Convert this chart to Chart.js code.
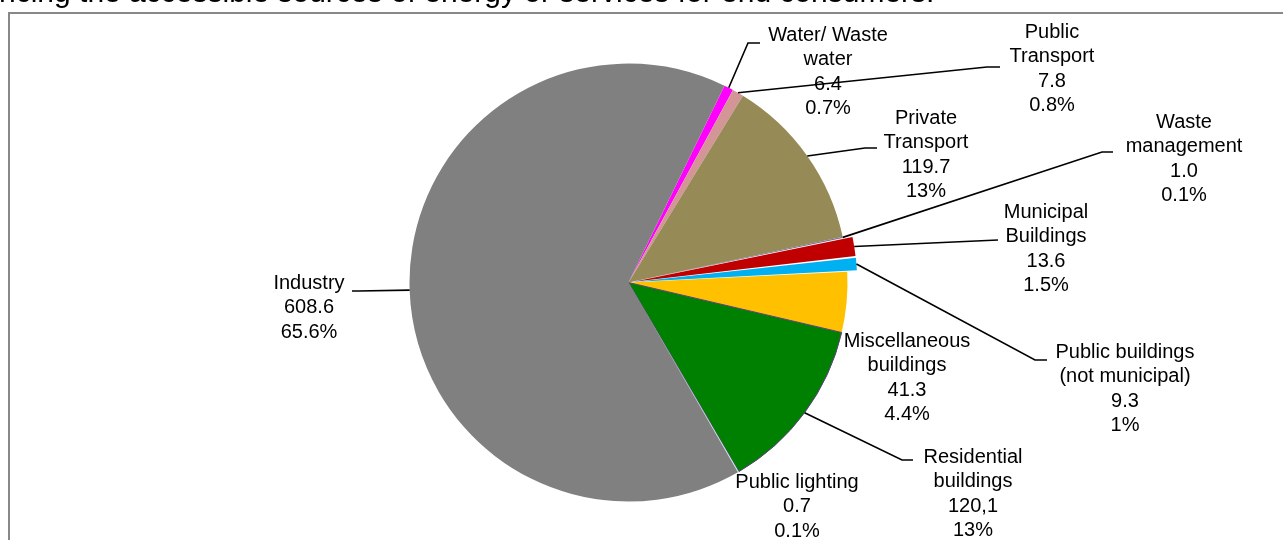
<!DOCTYPE html>
<html>
<head>
<meta charset="utf-8">
<script src="https://cdn.jsdelivr.net/npm/chart.js@4"></script>
<style>
    html, body { margin: 0; padding: 0; background: #fff; }
    #wrap { position: relative; width: 1283px; height: 540px; overflow: hidden; }
</style>
</head>
<body>
<div id="wrap"><canvas id="chartEnergi" width="1283" height="540"></canvas></div>
<script>
// ---- data: final energy consumption per sector (GWh) ----
const sectorNames = [
    'Water/ Waste water', 'Public Transport', 'Private Transport', 'Waste management',
    'Municipal Buildings', 'Public buildings (not municipal)', 'Miscellaneous buildings',
    'Residential buildings', 'Public lighting', 'Industry'
];
const sectorLines = [
    ['Water/ Waste', 'water'], ['Public', 'Transport'], ['Private', 'Transport'], ['Waste', 'management'],
    ['Municipal', 'Buildings'], ['Public buildings', '(not municipal)'], ['Miscellaneous', 'buildings'],
    ['Residential', 'buildings'], ['Public lighting'], ['Industry']
];
const consumption = [6.4, 7.8, 119.7, 1.0, 13.6, 9.3, 41.3, 120.1, 0.7, 608.6];
const valueLabels = ['6.4', '7.8', '119.7', '1.0', '13.6', '9.3', '41.3', '120,1', '0.7', '608.6'];
const percentLabels = ['0.7%', '0.8%', '13%', '0.1%', '1.5%', '1%', '4.4%', '13%', '0.1%', '65.6%'];

// ---- styling ----
const sliceColors = ['#FF00FF', '#D39595', '#968B56', '#7C7296', '#C00000', '#00B0F0', '#FFC000', '#008000', '#CFE6F2', '#808080'];
const sliceBorders = ['#FF00FF', '#D39595', '#968B56', '#7C7296', '#FF1010', '#00B0F0', '#FFC000', '#5E3F80', '#CFE6F2', '#808080'];
const sliceBorderWidths = [0, 0, 0, 0, 0, 0, 0, 1, 0, 0];
const explode = [0, 0, 0, 0, 20, 20, 0, 0, 0, 0];

// label boxes: centre x, y of first line, leader line points after the slice edge
const labelSpots = [
    { x: 828, y: 35, leader: [[748, 43], [760, 43]] },
    { x: 1052, y: 32, leader: [[987, 67], [1000, 67]] },
    { x: 926, y: 118, leader: [[865, 148], [877, 148]] },
    { x: 1184, y: 122, leader: [[1102, 152], [1113, 152]] },
    { x: 1046, y: 212, leader: [[998, 240]] },
    { x: 1125, y: 352, leader: [[1035, 360], [1047, 360]] },
    { x: 907, y: 341, leader: null },
    { x: 973, y: 457, leader: [[902, 460], [913, 460]] },
    { x: 797, y: 482, leader: null },
    { x: 309, y: 283, leader: [[358, 291], [352, 291]] }
];
const LINE_GAP = 24.5;

const sliceLabels = {
    id: 'sliceLabels',
    beforeDraw(chart) {
        const ctx = chart.ctx;
        ctx.save();
        // frame of the figure
        ctx.strokeStyle = '#888888';
        ctx.lineWidth = 2;
        ctx.strokeRect(9, 13, 1400, 700);
        // tail of the caption line above the figure
        ctx.fillStyle = '#000';
        ctx.font = '30px "Liberation Sans", Arial, sans-serif';
        ctx.textBaseline = 'alphabetic';
        ctx.fillText('ncing the accessible sources of energy or services for end consumers.', -1, 2);
        ctx.restore();
    },
    afterDatasetsDraw(chart) {
        const ctx = chart.ctx;
        const arcs = chart.getDatasetMeta(0).data;
        ctx.save();
        ctx.strokeStyle = '#000';
        ctx.lineWidth = 1.6;
        arcs.forEach((arc, i) => {
            const spot = labelSpots[i];
            if (!spot.leader) return;
            const p = arc.getProps(['x', 'y', 'startAngle', 'endAngle', 'outerRadius', 'circumference'], true);
            const mid = (p.startAngle + p.endAngle) / 2;
            const shift = (arc.options.offset || 0) / 4;
            const grow = shift * (1 - Math.sin(Math.min(Math.PI, p.circumference)));
            const r = p.outerRadius + shift + grow;
            ctx.beginPath();
            ctx.moveTo(p.x + Math.cos(mid) * r, p.y + Math.sin(mid) * r);
            spot.leader.forEach(pt => ctx.lineTo(pt[0], pt[1]));
            ctx.stroke();
        });
        ctx.fillStyle = '#000';
        ctx.font = '20px "Liberation Sans", Arial, sans-serif';
        ctx.textAlign = 'center';
        ctx.textBaseline = 'middle';
        arcs.forEach((arc, i) => {
            const spot = labelSpots[i];
            const lines = [...sectorLines[i], valueLabels[i], percentLabels[i]];
            lines.forEach((txt, k) => ctx.fillText(txt, spot.x, spot.y + k * LINE_GAP));
        });
        ctx.restore();
    }
};

new Chart(document.getElementById('chartEnergi'), {
    type: 'pie',
    data: {
        labels: sectorNames,
        datasets: [{
            data: consumption,
            backgroundColor: sliceColors,
            borderColor: sliceBorders,
            borderWidth: sliceBorderWidths,
            hoverBorderWidth: 0,
            offset: explode,
            hoverOffset: 0
        }]
    },
    options: {
        responsive: false,
        animation: false,
        rotation: 26,
        layout: { padding: { left: 328, right: 354, top: 53, bottom: 28 } },
        plugins: {
            legend: { display: false },
            tooltip: { enabled: false }
        }
    },
    plugins: [sliceLabels]
});
</script>
</body>
</html>
